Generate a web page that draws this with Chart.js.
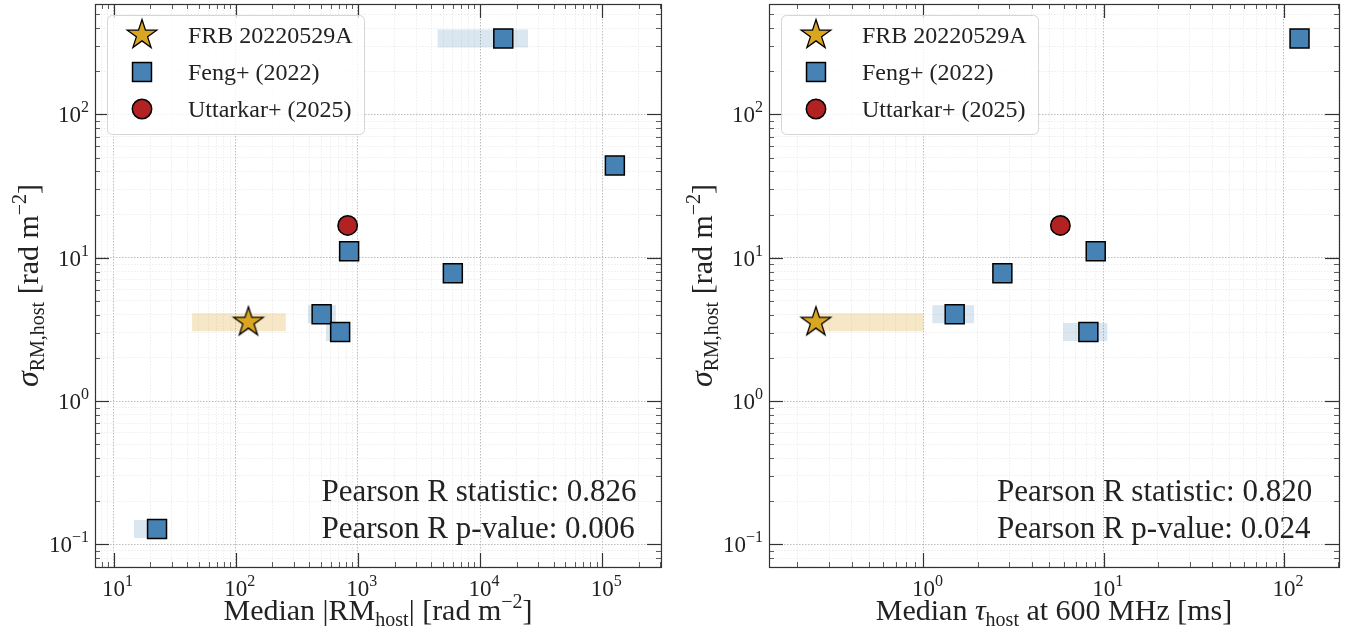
<!DOCTYPE html>
<html>
<head>
<meta charset="utf-8">
<script src="https://cdn.jsdelivr.net/npm/chart.js@4.4.1/dist/chart.umd.min.js"></script>
<style>
  html, body { margin: 0; padding: 0; background: #fff; }
  #wrap { position: relative; width: 1353px; height: 635px; }
  canvas { position: absolute; top: 0; }
</style>
</head>
<body>
<div id="wrap">
  <canvas id="left" width="676" height="635" style="left:0"></canvas>
  <canvas id="right" width="677" height="635" style="left:676px"></canvas>
</div>
<script>
// ---- data ----
// left panel: median |RM_host| [rad m^-2] vs sigma_RM,host
const frbRM = [127];
const frbRMLo = [44];
const frbRMHi = [257];
const frbSigma = [3.55];

const fengRM = [15500, 127000, 848, 5990, 505, 716, 22.7];
const fengRMLo = [4500, null, null, null, 390, 548, 14.7];
const fengRMHi = [24700, null, null, null, 660, 840, 25];
const fengSigma = [339, 44.1, 11.1, 7.8, 4.04, 3.03, 0.128];

const uttRM = [825];
const uttSigma = [16.8];

// right panel: median tau_host at 600 MHz [ms] vs sigma_RM,host
const frbTau = [0.253];
const frbTauLo = [0.253];
const frbTauHi = [1.0];

const fengTau = [122, 9.03, 2.74, 1.49, 8.22];
const fengTauLo = [null, null, null, 1.12, 5.96];
const fengTauHi = [null, null, null, 1.91, 10.47];
const fengSigmaTau = [339, 11.1, 7.8, 4.04, 3.03];

const uttTau = [5.75];
const uttSigmaTau = [16.8];

// tick labels (powers of ten)
const xTicksLeft = [1e1, 1e2, 1e3, 1e4, 1e5];
const xTickExpLeft = ['1', '2', '3', '4', '5'];
const xTicksRight = [1e0, 1e1, 1e2];
const xTickExpRight = ['0', '1', '2'];
const yTicks = [1e-1, 1e0, 1e1, 1e2];
const yTickExp = ['\u22121', '0', '1', '2'];

const statsLeft = ['Pearson R statistic: 0.826', 'Pearson R p-value: 0.006'];
const statsRight = ['Pearson R statistic: 0.820', 'Pearson R p-value: 0.024'];

const labels = ['FRB 20220529A', 'Feng+ (2022)', 'Uttarkar+ (2025)'];

// ---- styling ----
const SERIF = '"Liberation Serif", "DejaVu Serif", serif';
const starColor = '#DAA520';
const fengColor = '#4682B4';
const uttColor = '#B22222';

function font(size, italic) {
  return (italic ? 'italic ' : '') + size + 'px ' + SERIF;
}

// parts: [text, size, dy, italic]
function drawRich(ctx, parts, x, y, align) {
  let w = 0;
  parts.forEach(p => { ctx.font = font(p[1], p[3]); w += ctx.measureText(p[0]).width; });
  let cx = align === 'center' ? x - w / 2 : align === 'right' ? x - w : x;
  ctx.textAlign = 'left';
  ctx.textBaseline = 'alphabetic';
  parts.forEach(p => {
    ctx.font = font(p[1], p[3]);
    ctx.fillText(p[0], cx, y + (p[2] || 0));
    cx += ctx.measureText(p[0]).width;
  });
}

const starImg = (() => {
  const c = document.createElement('canvas');
  c.width = 36; c.height = 36;
  const g = c.getContext('2d');
  const R = 15.5, r = R * 0.382;
  g.beginPath();
  for (let k = 0; k < 10; k++) {
    const rad = k % 2 ? r : R;
    const a = -Math.PI / 2 + k * Math.PI / 5;
    const px = 18 + rad * Math.cos(a), py = 18 + rad * Math.sin(a);
    if (k) g.lineTo(px, py); else g.moveTo(px, py);
  }
  g.closePath();
  g.fillStyle = starColor;
  g.fill();
  g.lineWidth = 1.3;
  g.strokeStyle = '#000';
  g.stroke();
  return c;
})();

function logTicks(min, max) {
  const out = [];
  for (let e = Math.floor(Math.log10(min)); e <= Math.ceil(Math.log10(max)); e++) {
    for (let k = 1; k <= 9; k++) {
      const v = k * Math.pow(10, e);
      if (v >= min && v <= max) out.push({ value: v, major: k === 1 });
    }
  }
  return out;
}

function bandPoints(xs, lo, hi, ys) {
  const pts = [];
  xs.forEach((_, i) => {
    if (lo[i] == null) return;
    pts.push({ x: lo[i], y: ys[i] }, { x: hi[i], y: ys[i] }, { x: hi[i], y: null });
  });
  return pts;
}

function pts(xs, ys) {
  return xs.map((x, i) => ({ x, y: ys[i] }));
}

const mplPlugin = {
  id: 'mpl',
  beforeDraw(chart) {
    const ctx = chart.ctx;
    ctx.save();
    ctx.fillStyle = '#fff';
    ctx.fillRect(0, 0, chart.width, chart.height);
    ctx.restore();
  },
  afterDraw(chart, args, o) {
    const ctx = chart.ctx, a = chart.chartArea;
    const xs = chart.scales.x, ys = chart.scales.y;
    ctx.save();
    ctx.strokeStyle = '#333';
    const seg = (x1, y1, x2, y2) => { ctx.beginPath(); ctx.moveTo(x1, y1); ctx.lineTo(x2, y2); ctx.stroke(); };

    // inward ticks on all four sides
    xs.ticks.forEach(t => {
      const px = Math.round(xs.getPixelForValue(t.value)) + 0.5;
      const len = t.major ? 14 : 5;
      ctx.lineWidth = t.major ? 1.2 : 0.8;
      seg(px, a.bottom, px, a.bottom - len);
      seg(px, a.top, px, a.top + len);
    });
    ys.ticks.forEach(t => {
      const py = Math.round(ys.getPixelForValue(t.value)) + 0.5;
      const len = t.major ? 14 : 5;
      ctx.lineWidth = t.major ? 1.2 : 0.8;
      seg(a.left, py, a.left + len, py);
      seg(a.right, py, a.right - len, py);
    });
    ctx.lineWidth = 1.2;
    ctx.strokeRect(a.left + 0.5, a.top + 0.5, a.right - a.left, a.bottom - a.top);

    // tick labels
    ctx.fillStyle = '#222';
    o.xTicks.forEach((v, i) => {
      drawRich(ctx, [['10', 23], [o.xExp[i], 16, -10]], xs.getPixelForValue(v) + 4, a.bottom + 29, 'center');
    });
    o.yTicks.forEach((v, i) => {
      drawRich(ctx, [['10', 23], [o.yExp[i], 16, -10]], a.left - 6, ys.getPixelForValue(v) + 8, 'right');
    });

    // axis titles
    drawRich(ctx, o.xTitle, (a.left + a.right) / 2, a.bottom + 53, 'center');
    ctx.save();
    ctx.translate(a.left - 57, (a.top + a.bottom) / 2);
    ctx.rotate(-Math.PI / 2);
    drawRich(ctx, o.yTitle, 0, 0, 'center');
    ctx.restore();

    // statistics text
    const sx = a.left + 0.40 * (a.right - a.left);
    drawRich(ctx, [[o.stats[0], 31]], sx, a.bottom - 66, 'left');
    drawRich(ctx, [[o.stats[1], 31]], sx, a.bottom - 29, 'left');

    // legend box
    const bx = a.left + 12, by = a.top + 11, bw = 257, bh = 119;
    ctx.beginPath();
    ctx.roundRect(bx + 0.5, by + 0.5, bw, bh, 5);
    ctx.fillStyle = 'rgba(255,255,255,0.8)';
    ctx.fill();
    ctx.strokeStyle = '#d6d6d6';
    ctx.lineWidth = 1;
    ctx.stroke();
    const marks = chart.data.datasets.filter(d => d.label);
    marks.forEach((d, i) => {
      const mx = a.left + 47, my = by + 20 + i * 37;
      ctx.strokeStyle = '#000';
      ctx.lineWidth = 1.5;
      if (d.pointStyle === 'rect') {
        const s = d.pointRadius * Math.SQRT1_2;
        ctx.fillStyle = d.backgroundColor;
        ctx.fillRect(mx - s, my - s, 2 * s, 2 * s);
        ctx.strokeRect(mx - s, my - s, 2 * s, 2 * s);
      } else if (d.pointStyle === 'circle') {
        ctx.beginPath();
        ctx.arc(mx, my, d.pointRadius, 0, Math.PI * 2);
        ctx.fillStyle = d.backgroundColor;
        ctx.fill();
        ctx.stroke();
      } else {
        ctx.drawImage(d.pointStyle, mx - 18, my - 18);
      }
      ctx.fillStyle = '#222';
      drawRich(ctx, [[d.label, 24]], a.left + 93, my + 8, 'left');
    });
    ctx.restore();
  }
};

function makePanel(id, pad, xMin, xMax, datasets, texts) {
  const axisBase = {
    type: 'logarithmic',
    bounds: 'data',
    afterBuildTicks: axis => { axis.ticks = logTicks(axis.min, axis.max); },
    ticks: { display: false },
    grid: {
      drawTicks: false,
      color: c => (c.tick && c.tick.major ? '#b4b4b4' : '#e6e6e6'),
      lineWidth: c => (c.tick && c.tick.major ? 0.9 : 0.7)
    },
    border: { display: false, dash: [1.5, 1.5] }
  };
  return new Chart(document.getElementById(id), {
    type: 'scatter',
    data: { datasets },
    plugins: [mplPlugin],
    options: {
      responsive: false,
      animation: false,
      devicePixelRatio: 1,
      events: [],
      layout: { padding: pad, autoPadding: false },
      scales: {
        x: Object.assign({}, axisBase, { min: xMin, max: xMax }),
        y: Object.assign({}, axisBase, { min: 0.0695, max: 590 })
      },
      plugins: {
        legend: { display: false },
        tooltip: { enabled: false },
        mpl: texts
      }
    }
  });
}

function markerSets(frbX, frbY, fengX, fengY, uttX, uttY) {
  return [
    { label: labels[0], data: pts(frbX, frbY), pointStyle: starImg, pointRadius: 15, order: 1 },
    { label: labels[1], data: pts(fengX, fengY), pointStyle: 'rect', pointRadius: 13.4,
      backgroundColor: fengColor, borderColor: '#000', borderWidth: 1.5, order: 2 },
    { label: labels[2], data: pts(uttX, uttY), pointStyle: 'circle', pointRadius: 9.7,
      backgroundColor: uttColor, borderColor: '#000', borderWidth: 1.5, order: 2 }
  ];
}

function bandSet(data, color) {
  return { data, showLine: true, spanGaps: false, pointRadius: 0, borderWidth: 18,
           borderColor: color, borderCapStyle: 'butt', order: 10 };
}

const yTitle = [['\u03c3', 32, 0, true], ['RM,host', 20, 6], [' [rad m', 30], ['\u22122', 20, -12], [']', 30]];

makePanel('left', { left: 95, right: 15, top: 4, bottom: 68 }, 7.05, 3.03e5,
  markerSets(frbRM, frbSigma, fengRM, fengSigma, uttRM, uttSigma).concat([
    bandSet(bandPoints(frbRM, frbRMLo, frbRMHi, frbSigma), 'rgba(218,165,32,0.25)'),
    bandSet(bandPoints(fengRM, fengRMLo, fengRMHi, fengSigma), 'rgba(70,130,180,0.2)')
  ]),
  {
    xTicks: xTicksLeft, xExp: xTickExpLeft, yTicks, yExp: yTickExp, stats: statsLeft,
    xTitle: [['Median |RM', 30], ['host', 20, 6], ['| [rad m', 30], ['\u22122', 20, -12], [']', 30]],
    yTitle
  });

makePanel('right', { left: 93, right: 14, top: 4, bottom: 68 }, 0.139, 202,
  markerSets(frbTau, frbSigma, fengTau, fengSigmaTau, uttTau, uttSigmaTau).concat([
    bandSet(bandPoints(frbTau, frbTauLo, frbTauHi, frbSigma), 'rgba(218,165,32,0.25)'),
    bandSet(bandPoints(fengTau, fengTauLo, fengTauHi, fengSigmaTau), 'rgba(70,130,180,0.2)')
  ]),
  {
    xTicks: xTicksRight, xExp: xTickExpRight, yTicks, yExp: yTickExp, stats: statsRight,
    xTitle: [['Median ', 30], ['\u03c4', 30, 0, true], ['host', 20, 6], [' at 600 MHz [ms]', 30]],
    yTitle
  });
</script>
</body>
</html>
